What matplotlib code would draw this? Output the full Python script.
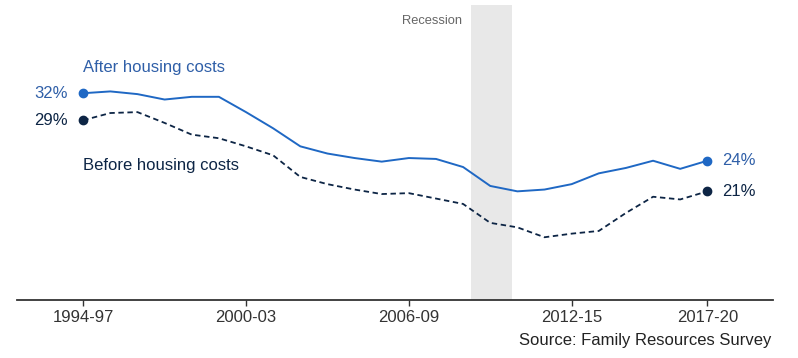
import matplotlib.pyplot as plt

plt.rcParams["font.family"] = ["Liberation Sans", "DejaVu Sans"]

# --- data (3-year periods, % of people) ---
periods = ["1994-97", "1995-98", "1996-99", "1997-00", "1998-01", "1999-02",
           "2000-03", "2001-04", "2002-05", "2003-06", "2004-07", "2005-08",
           "2006-09", "2007-10", "2008-11", "2009-12", "2010-13", "2011-14",
           "2012-15", "2013-16", "2014-17", "2015-18", "2016-19", "2017-20"]
after_hc = [31.8, 32.0, 31.7, 31.1, 31.4, 31.4, 29.7, 27.9, 25.9, 25.1, 24.6, 24.2,
            24.6, 24.5, 23.6, 21.5, 20.9, 21.1, 21.7, 22.9, 23.5, 24.3, 23.4, 24.3]
before_hc = [28.8, 29.6, 29.7, 28.5, 27.2, 26.8, 25.9, 24.9, 22.5, 21.7, 21.1, 20.6,
             20.7, 20.1, 19.5, 17.4, 16.9, 15.8, 16.2, 16.5, 18.5, 20.3, 20.0, 20.9]
tick_labels = ["1994-97", "2000-03", "2006-09", "2012-15", "2017-20"]
recession = (14.3, 15.8)   # span in period index

AHC_COL = "#1f68c4"
AHC_TXT = "#2f5fa8"
BHC_COL = "#0d2545"

x = list(range(len(periods)))

fig = plt.figure(figsize=(7.98, 3.58), dpi=100)
ax = fig.add_axes([17 / 798, 58 / 358, 756 / 798, 295 / 358])

# recession band
ax.axvspan(*recession, color="#e8e8e8", lw=0, zorder=0)
ax.text(recession[0] - 0.33, 39.8, "Recession", ha="right", va="center",
        fontsize=9.3, color="#666666")

# lines
ax.plot(x, after_hc, color=AHC_COL, lw=1.4, zorder=3)
ax.plot(x, before_hc, color=BHC_COL, lw=1.3, ls=(0, (3, 2)), zorder=3)

# end dots
for s, c in [(after_hc, AHC_COL), (before_hc, BHC_COL)]:
    ax.plot([x[0], x[-1]], [s[0], s[-1]], "o", color=c, ms=6, zorder=4)

# end labels
for s, c in [(after_hc, AHC_TXT), (before_hc, BHC_COL)]:
    ax.annotate(f"{round(s[0])}%", (x[0], s[0]), xytext=(-15, 0),
                textcoords="offset pixels", ha="right", va="center",
                fontsize=12, color=c)
    ax.annotate(f"{round(s[-1])}%", (x[-1], s[-1]), xytext=(15, 0),
                textcoords="offset pixels", ha="left", va="center",
                fontsize=12, color=c)

# series labels
ax.annotate("After housing costs", (x[0], after_hc[0]), xytext=(0, 26),
            textcoords="offset pixels", ha="left", va="center",
            fontsize=12, color=AHC_TXT)
ax.annotate("Before housing costs", (x[0], before_hc[0]), xytext=(0, -45),
            textcoords="offset pixels", ha="left", va="center",
            fontsize=12, color=BHC_COL)

# axes styling
ax.set_xlim(-2.44, 25.42)
ax.set_ylim(8.83, 41.6)
ax.set_xticks([periods.index(t) for t in tick_labels])
ax.set_xticklabels(tick_labels)
ax.tick_params(axis="x", length=4, width=1, color="#333333", pad=3,
               labelsize=12, labelcolor="#333333")
ax.set_yticks([])
for side in ["top", "right", "left"]:
    ax.spines[side].set_visible(False)
ax.spines["bottom"].set_color("#333333")
ax.spines["bottom"].set_linewidth(1.3)

fig.text(771 / 798, 1 - 341 / 358, "Source: Family Resources Survey",
         ha="right", va="center", fontsize=12, color="#222222")

fig.savefig("out.png", dpi=100)
